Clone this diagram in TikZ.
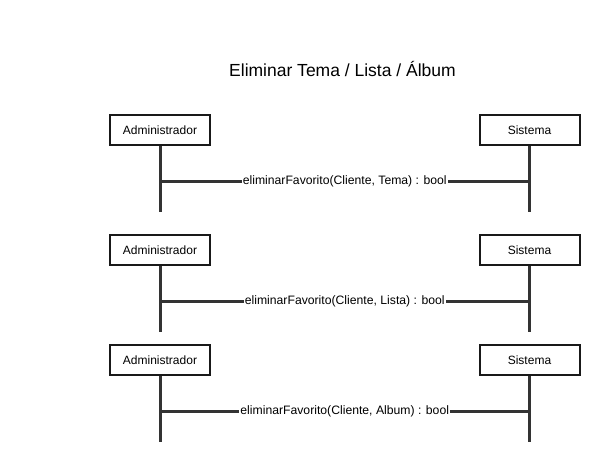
\documentclass[tikz,border=0pt]{standalone}
\usepackage{fontspec}
\setmainfont{Liberation Sans}
\begin{document}
\begin{tikzpicture}[x=1pt,y=-1pt,
  actor/.style={draw=black!90, line width=2pt, fill=white, minimum width=100pt, minimum height=30pt, inner sep=0pt, font=\fontsize{12}{14}\selectfont},
  life/.style={draw=black!80, line width=3pt},
  msg/.style={draw=black!80, line width=3pt},
  lbl/.style={fill=white, inner sep=1pt, font=\fontsize{12.2}{14}\selectfont}]
\useasboundingbox (0,0) rectangle (600,467);
\node[font=\fontsize{17.5}{20}\selectfont] (title) at (342.5,69) {Eliminar Tema / Lista / Álbum};
\foreach \i/\by/\my/\ey/\arg in {1/130/181/212/Tema, 2/250/301/332/Lista, 3/360/411/442/Album}{
  \coordinate (ea\i) at (160,\ey);
  \coordinate (es\i) at (529.5,\ey);
  \coordinate (m\i) at (345,\my);
  \draw[life] (160,\by) -- (ea\i);
  \draw[life] (529.5,\by) -- (es\i);
  \node[actor] (a\i) at (160,\by) {Administrador};
  \node[actor] (s\i) at (529.5,\by) {Sistema};
  \draw[msg] (a\i |- m\i) -- (s\i |- m\i) node[lbl, midway] {eliminarFavorito(Cliente, \arg) : bool};
}
\end{tikzpicture}
\end{document}
